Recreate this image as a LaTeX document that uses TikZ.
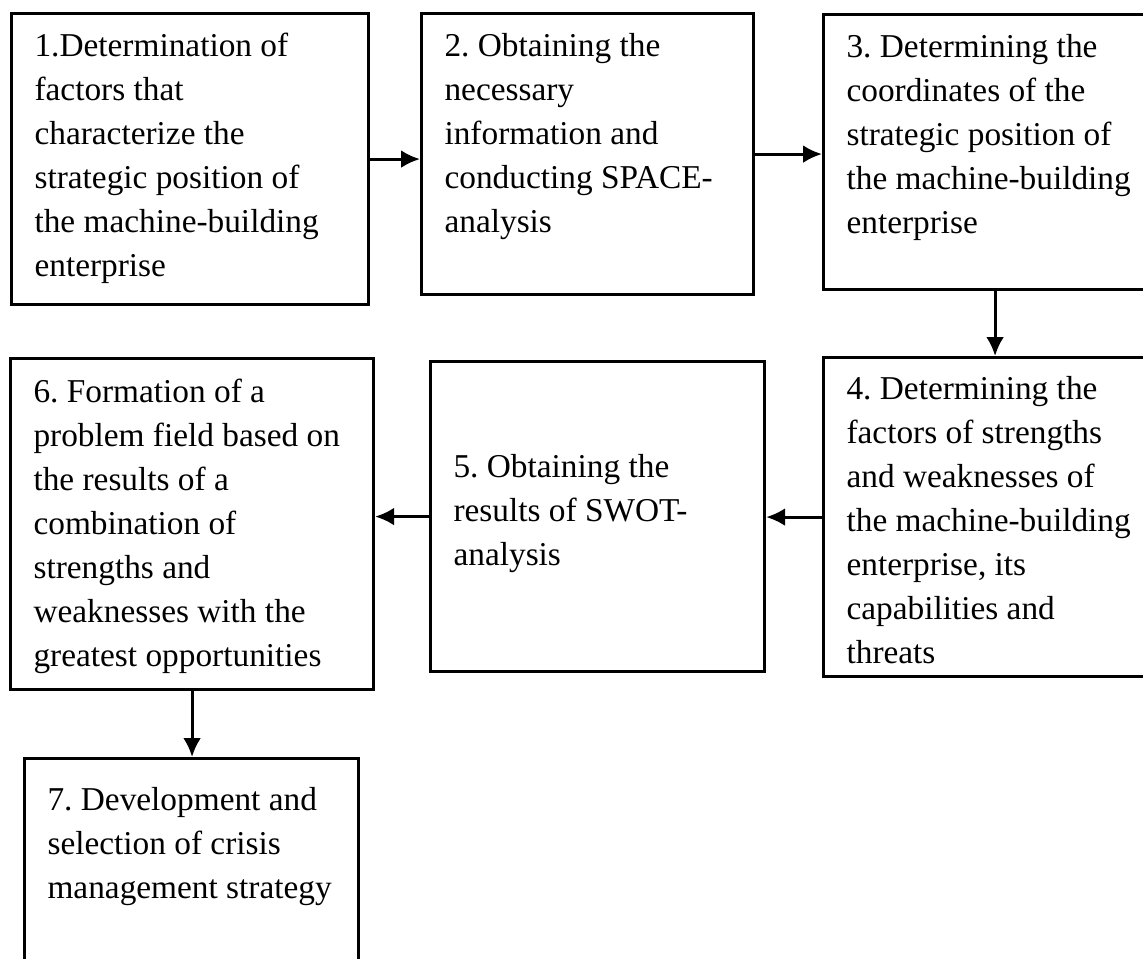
\documentclass[tikz,border=0pt]{standalone}
\usepackage{fontspec}
\setmainfont{Liberation Serif}
\usepackage{tikz}
\usetikzlibrary{arrows.meta}
\frenchspacing

% one pixel of the layout
\newdimen\pxu \pxu=0.45pt
% box text: width, height, first baseline, lines
\newcommand{\stagetext}[4]{\parbox[t][#2\pxu][t]{#1\pxu}{\raggedright\leftskip=23\pxu\rule{0pt}{#3\pxu}#4}}

\begin{document}
\begin{tikzpicture}[x=0.45pt, y=-0.45pt,
    stage/.style={draw, rectangle, line width=1.4pt, inner sep=0pt, anchor=north west,
                  font=\fontsize{15}{19.8}\selectfont},
    flow/.style={-{Latex[length=8.5pt, width=8pt]}, line width=1.4pt}]
    \clip (0,0) rectangle (1143,958);

    % Top row
    \node[stage] (s1) at (10,12) {\stagetext{357}{291}{43}{1.Determination of\\ factors that\\ characterize the\\ strategic position of\\ the machine-building\\ enterprise}};
    \node[stage] (s2) at (420,12) {\stagetext{332}{281}{43}{2. Obtaining the\\ necessary\\ information and\\ conducting SPACE-\\ analysis}};
    \node[stage] (s3) at (822,13) {\stagetext{343}{275}{43}{3. Determining the\\ coordinates of the\\ strategic position of\\ the machine-building\\ enterprise}};

    % Middle row
    \node[stage] (s4) at (822,356) {\stagetext{343}{319}{42}{4. Determining the\\ factors of strengths\\ and weaknesses of\\ the machine-building\\ enterprise, its\\ capabilities and\\ threats}};
    \node[stage] (s5) at (429,360) {\stagetext{334}{310}{116}{5. Obtaining the\\ results of SWOT-\\ analysis}};
    \node[stage] (s6) at (9,357) {\stagetext{363}{331}{44}{6. Formation of a\\ problem field based on\\ the results of a\\ combination of\\ strengths and\\ weaknesses with the\\ greatest opportunities}};

    % Last step
    \node[stage] (s7) at (23,757) {\stagetext{334}{240}{52}{7. Development and\\ selection of crisis\\ management strategy}};

    % Edges
    \draw[flow] (s1.east) -- (s1.east -| s2.west);
    \draw[flow] (s2.east) -- (s2.east -| s3.west);
    \draw[flow] (s3.south) -- (s3.south |- s4.north);
    \draw[flow] (s4.west) -- (s4.west -| s5.east);
    \draw[flow] (s5.west) -- (s5.west -| s6.east);
    \draw[flow] (s6.south) -- (s6.south |- s7.north);
\end{tikzpicture}
\end{document}
